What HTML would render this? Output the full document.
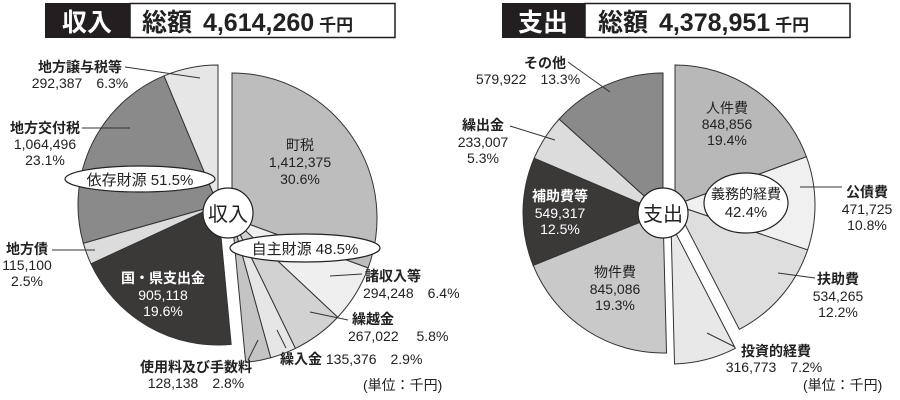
<!DOCTYPE html>
<html><head><meta charset="utf-8"><style>
body{margin:0;background:#fff;}
svg{display:block;font-family:"Liberation Sans","Noto Sans CJK JP",sans-serif;}
.t{font-size:14px;fill:#222;}
.w{font-size:14px;fill:#fff;}
</style></head><body>
<svg id="s" width="900" height="400" viewBox="0 0 900 400" xmlns="http://www.w3.org/2000/svg">
<rect x="45" y="3" width="85" height="35" fill="#231f20"/>
<rect x="130" y="3.5" width="265" height="34" fill="#fff" stroke="#231f20" stroke-width="1.5"/>
<text x="87" y="31" font-size="25" font-weight="bold" fill="#fff" text-anchor="middle">収入</text>
<text x="142" y="31" font-size="25" font-weight="bold" fill="#222">総額 <tspan dx="4">4,614,260</tspan><tspan dx="5" font-size="17">千円</tspan></text>
<rect x="502" y="3" width="83" height="35" fill="#231f20"/>
<rect x="585" y="3.5" width="265" height="34" fill="#fff" stroke="#231f20" stroke-width="1.5"/>
<text x="543" y="31" font-size="25" font-weight="bold" fill="#fff" text-anchor="middle">支出</text>
<text x="598" y="31" font-size="25" font-weight="bold" fill="#222">総額 <tspan dx="4">4,378,951</tspan><tspan dx="5" font-size="17">千円</tspan></text>
<g id="pies"></g>
<g id="top">
<g stroke="#333" stroke-width="1">
<line x1="125" y1="67" x2="200" y2="78"/>
<line x1="82" y1="128" x2="130" y2="128"/>
<line x1="52" y1="250" x2="95" y2="250"/>
<line x1="330" y1="276" x2="362" y2="274"/>
<line x1="310" y1="312" x2="348" y2="320"/>
<line x1="277" y1="330" x2="286" y2="348"/>
<line x1="258" y1="340" x2="248" y2="360"/>
<line x1="568" y1="62" x2="610" y2="92"/>
<line x1="510" y1="126" x2="555" y2="140"/>
<line x1="800" y1="187" x2="842" y2="187"/>
<line x1="778" y1="273" x2="815" y2="278"/>
<line x1="707" y1="333" x2="735" y2="347"/>
</g>
<circle cx="228" cy="213" r="25" fill="#fff" stroke="#222" stroke-width="1.2"/>
<text x="228" y="221" font-size="20" text-anchor="middle" fill="#222">収入</text>
<ellipse cx="140" cy="179" rx="75" ry="13" fill="#fff" stroke="#222" stroke-width="1.2"/>
<text x="140" y="185" font-size="15" text-anchor="middle" fill="#222">依存財源 51.5%</text>
<ellipse cx="305" cy="248" rx="75" ry="14" fill="#fff" stroke="#222" stroke-width="1.2"/>
<text x="305" y="254" font-size="15" text-anchor="middle" fill="#222">自主財源 48.5%</text>
<circle cx="663" cy="213" r="25" fill="#fff" stroke="#222" stroke-width="1.2"/>
<text x="663" y="221" font-size="20" text-anchor="middle" fill="#222">支出</text>
<ellipse cx="746" cy="203" rx="42" ry="30" fill="#fff" stroke="#222" stroke-width="1.2"/>
<text x="746" y="199" font-size="14" text-anchor="middle" fill="#222">義務的経費</text>
<text x="746" y="217" font-size="15" text-anchor="middle" fill="#222">42.4%</text>

<text class="t" x="80" y="72" text-anchor="middle" font-weight="bold">地方譲与税等</text>
<text class="t" x="80" y="88" text-anchor="middle">292,387　6.3%</text>
<text class="t" x="45" y="133" text-anchor="middle" font-weight="bold">地方交付税</text>
<text class="t" x="45" y="149" text-anchor="middle">1,064,496</text>
<text class="t" x="45" y="165" text-anchor="middle">23.1%</text>
<text class="t" x="27" y="254" text-anchor="middle" font-weight="bold">地方債</text>
<text class="t" x="27" y="270" text-anchor="middle">115,100</text>
<text class="t" x="27" y="286" text-anchor="middle">2.5%</text>
<text class="w" x="163" y="283" text-anchor="middle" font-weight="bold">国・県支出金</text>
<text class="w" x="163" y="300" text-anchor="middle">905,118</text>
<text class="w" x="163" y="316" text-anchor="middle">19.6%</text>
<text class="t" x="300" y="150" text-anchor="middle">町税</text>
<text class="t" x="300" y="167" text-anchor="middle">1,412,375</text>
<text class="t" x="300" y="184" text-anchor="middle">30.6%</text>
<text class="t" x="365" y="281" font-weight="bold">諸収入等</text>
<text class="t" x="363" y="298">294,248　6.4%</text>
<text class="t" x="352" y="324" font-weight="bold">繰越金</text>
<text class="t" x="348" y="341">267,022　 5.8%</text>
<text class="t" x="280" y="364"><tspan font-weight="bold">繰入金</tspan> 135,376　2.9%</text>
<text class="t" x="196" y="372" text-anchor="middle" font-weight="bold">使用料及び手数料</text>
<text class="t" x="196" y="388" text-anchor="middle">128,138　2.8%</text>
<text class="t" x="363" y="390">(単位：千円)</text>

<text class="t" x="545" y="68" text-anchor="middle" font-weight="bold">その他</text>
<text class="t" x="528" y="84" text-anchor="middle">579,922　13.3%</text>
<text class="t" x="483" y="130" text-anchor="middle" font-weight="bold">繰出金</text>
<text class="t" x="483" y="147" text-anchor="middle">233,007</text>
<text class="t" x="483" y="163" text-anchor="middle">5.3%</text>
<text class="w" x="560" y="201" text-anchor="middle" font-weight="bold">補助費等</text>
<text class="w" x="560" y="218" text-anchor="middle">549,317</text>
<text class="w" x="560" y="234" text-anchor="middle">12.5%</text>
<text class="t" x="727" y="113" text-anchor="middle">人件費</text>
<text class="t" x="727" y="129" text-anchor="middle">848,856</text>
<text class="t" x="727" y="145" text-anchor="middle">19.4%</text>
<text class="t" x="867" y="197" text-anchor="middle" font-weight="bold">公債費</text>
<text class="t" x="867" y="214" text-anchor="middle">471,725</text>
<text class="t" x="867" y="230" text-anchor="middle">10.8%</text>
<text class="t" x="838" y="284" text-anchor="middle" font-weight="bold">扶助費</text>
<text class="t" x="838" y="301" text-anchor="middle">534,265</text>
<text class="t" x="838" y="317" text-anchor="middle">12.2%</text>
<text class="t" x="615" y="277" text-anchor="middle">物件費</text>
<text class="t" x="615" y="294" text-anchor="middle">845,086</text>
<text class="t" x="615" y="310" text-anchor="middle">19.3%</text>
<text class="t" x="776" y="356" text-anchor="middle" font-weight="bold">投資的経費</text>
<text class="t" x="774" y="372" text-anchor="middle">316,773　7.2%</text>
<text class="t" x="803" y="390">(単位：千円)</text>
</g>
</svg>
<script>
function wedges(cx,cy,r,start,list,g){
 var a=start;
 list.forEach(function(it){
  var a0=a*Math.PI/180,a1=(a+it[0]*3.6)*Math.PI/180;
  var x0=cx+r*Math.sin(a0),y0=cy-r*Math.cos(a0),x1=cx+r*Math.sin(a1),y1=cy-r*Math.cos(a1);
  var large=it[0]*3.6>180?1:0;
  if(it[1]){
  var p=document.createElementNS("http://www.w3.org/2000/svg","path");
  p.setAttribute("d","M"+cx+","+cy+"L"+x0+","+y0+"A"+r+","+r+" 0 "+large+" 1 "+x1+","+y1+"Z");
  p.setAttribute("fill",it[1]);p.setAttribute("stroke","#333");p.setAttribute("stroke-width","1");
  g.appendChild(p);}
  a+=it[0]*3.6;
 });
}
var g=document.getElementById("pies");
wedges(218,205,140,174.6,[[19.6,"#3b3838"],[2.5,"#dcdcdc"],[23.1,"#8a8a8a"],[6.3,"#e6e6e6"]],g);
wedges(232,218,145,0,[[30.6,"#bdbdbd"],[6.4,"#efefef"],[5.8,"#d2d2d2"],[2.9,"#e6e6e6"],[2.8,"#c4c4c4"]],g);
wedges(663,213,140,0,[[42.4,null],[7.2,null],[19.3,"#c9c9c9"],[12.5,"#3b3838"],[5.3,"#dcdcdc"],[13.3,"#8a8a8a"]],g);
wedges(675,205,140,0,[[19.4,"#b8b8b8"],[10.8,"#f0f0f0"],[12.2,"#dedede"]],g);
wedges(671,224,140,152.64,[[7.2,"#e8e8e8"]],g);
</script>
</body></html>
